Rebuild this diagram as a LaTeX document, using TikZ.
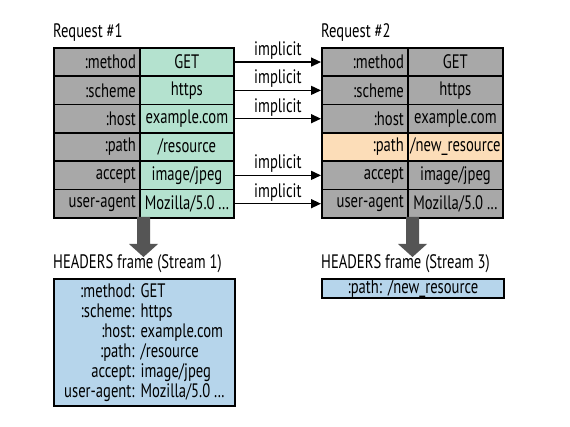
\documentclass[tikz,border=0pt]{standalone}
\usepackage{fontspec}
\setmainfont{PT Sans}[FakeStretch=0.75]
\usetikzlibrary{arrows.meta}
\definecolor{cgray}{HTML}{A8A8A8}
\definecolor{cgreen}{HTML}{B4E2CF}
\definecolor{cpeach}{HTML}{FCDDB8}
\definecolor{cblue}{HTML}{B6D5EB}
\definecolor{carrow}{HTML}{555555}
\newcommand{\moz}{Mozilla/5.0 .\kern0.5pt.\kern0.5pt.}
\begin{document}
\begin{tikzpicture}[x=1pt,y=-1pt,
  every node/.style={font=\fontsize{19.5}{20}\selectfont},
  cell/.style={draw=black,line width=1.8pt,minimum height=28.3pt,inner xsep=4pt,inner ysep=0pt,anchor=north west},
  keycell/.style={cell,fill=cgray,text width=78pt,align=right,minimum width=86pt},
  valcell/.style={cell,inner xsep=0pt,minimum width=94pt},
  implicit/.style={line width=1.4pt,-{Triangle[length=10pt,width=9pt]}},
  lbl/.style={anchor=west,inner sep=0pt},
  framebox/.style={draw=black,line width=1.8pt,fill=cblue,anchor=north west,inner sep=0pt},
  blockarrow/.style={fill=carrow}
]
\useasboundingbox (0,0) rectangle (570,427);
\fill[white] (0,0) rectangle (570,427);

% Request #1
\node[lbl] (t1) at (53,33) {Request \#1};
\foreach \i/\k/\v in {1/{:method}/{GET},2/{:scheme}/{https},3/{:host}/{example.com},4/{:path}/{/resource},5/{accept}/{image/jpeg},6/{user-agent}/{\moz}}{
  \node[keycell] (Lk\i) at (53,{47+(\i-1)*28.33}) {\k};
  \node[valcell,fill=cgreen] (Lv\i) at (139,{47+(\i-1)*28.33}) {\v};
}

% Request #2
\node[lbl] (t2) at (321,33) {Request \#2};
\foreach \i/\k/\v in {1/{:method}/{GET},2/{:scheme}/{https},3/{:host}/{example.com},5/{accept}/{image/jpeg},6/{user-agent}/{\moz}}{
  \node[keycell] (Rk\i) at (321,{47+(\i-1)*28.33}) {\k};
  \node[valcell,fill=cgray,minimum width=95pt] (Rv\i) at (407,{47+(\i-1)*28.33}) {\v};
}
\node[keycell,fill=cpeach] (Rk4) at (321,{47+3*28.33}) {:path};
\node[valcell,fill=cpeach,minimum width=95pt] (Rv4) at (407,{47+3*28.33}) {/new\_resource};

% implicit arrows
\foreach \i in {1,2,3,5,6}{
  \draw[implicit] (Lv\i.east) -- (Rk\i.west) node[midway,above=-1.5pt] (im\i) {implicit};
}

% block arrows
\fill[blockarrow] (137,217) -- (150,217) -- (150,244) -- (158,244) -- (143.5,257) -- (129,244) -- (137,244) -- cycle;
\fill[blockarrow] (406,217) -- (419,217) -- (419,244) -- (427,244) -- (412.5,257) -- (398,244) -- (406,244) -- cycle;

% HEADERS frame 1
\node[lbl] (h1) at (53,264) {HEADERS frame (Stream 1)};
\node[framebox,minimum width=181pt,minimum height=127pt] (f1) at (53,278) {};
\node (f1t) at ([yshift=-1pt]f1.center) {\begin{tabular}{@{}r@{\hspace{6pt}}l@{}}
:method: & GET\\
:scheme: & https\\
:host: & example.com\\
:path: & /resource\\
accept: & image/jpeg\\
user-agent: & \moz
\end{tabular}};

% HEADERS frame 3
\node[lbl] (h3) at (321,264) {HEADERS frame (Stream 3)};
\node[framebox,minimum width=182pt,minimum height=19pt] (f3) at (321,278) {};
\node (f3t) at (f3.center) {:path:\hspace{6pt}/new\_resource};
\end{tikzpicture}
\end{document}
